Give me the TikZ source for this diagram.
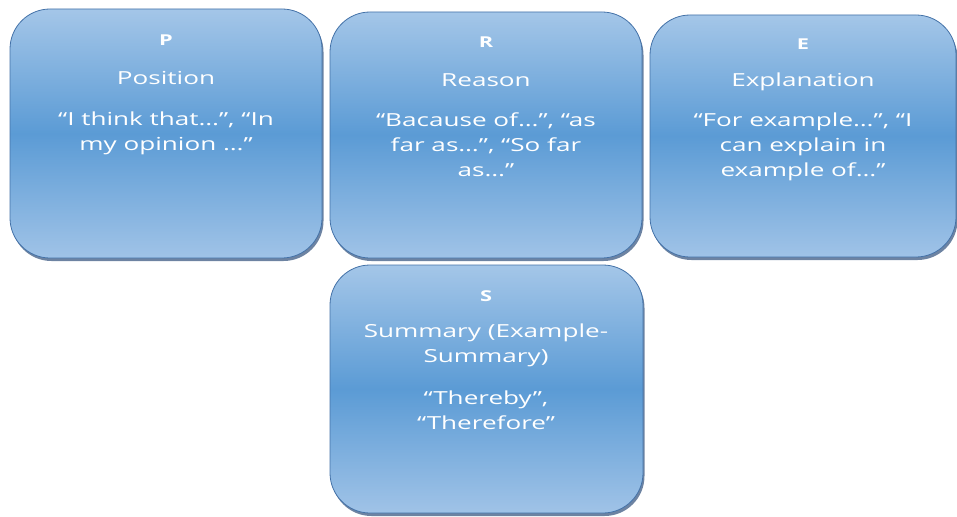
\documentclass[tikz,border=0pt]{standalone}
\usepackage{fontspec}
\setmainfont{Open Sans}
\newfontfamily\widefont[FakeStretch=1.45]{Open Sans}
\usetikzlibrary{shadows}
\definecolor{boxtop}{HTML}{A4C6E8}
\definecolor{boxmid}{HTML}{5B9BD5}
\definecolor{boxbot}{HTML}{A0C3E7}
\definecolor{boxline}{HTML}{4472A8}
\definecolor{shadowc}{HTML}{2F4F7A}
\tikzset{
  card/.style={draw=boxline, line width=0.8pt, rounded corners=40pt,
    top color=boxtop, bottom color=boxbot, middle color=boxmid,
    drop shadow={shadow xshift=1.5pt, shadow yshift=-3pt, fill=shadowc, opacity=0.7},
    inner sep=0pt},
  ttl/.style={text=white, font=\widefont\bfseries\fontsize{15}{17}\selectfont, inner sep=0pt},
  txt/.style={text=white, font=\widefont\fontsize{18}{25}\selectfont, align=center, inner sep=0pt},
}
\begin{document}
\begin{tikzpicture}[x=1pt,y=-1pt]
\useasboundingbox (0,0) rectangle (957,516);
\node[card, minimum width=312pt, minimum height=249pt] (P) at (166,133.5) {};
\node[card, minimum width=312pt, minimum height=246pt] (R) at (486,135) {};
\node[card, minimum width=306pt, minimum height=242pt] (E) at (803,136) {};
\node[card, minimum width=313pt, minimum height=248pt] (S) at (486.5,389) {};
% P
\node[ttl] (Pt) at (166,40) {P};
\node[txt] (Pn) at (166,78) {Position};
\node[txt] (Pb) at (166,133) {“I think that…”, “In\\my opinion …”};
% R
\node[ttl] (Rt) at (486,42) {R};
\node[txt] (Rn) at (486,80) {Reason};
\node[txt] (Rb) at (486,145) {“Bacause of…”, “as\\far as…”, “So far\\as…”};
% E
\node[ttl] (Et) at (803,44) {E};
\node[txt] (En) at (803,82) {Explanation};
\node[txt] (Eb) at (803,147) {“For example…”, “I\\can explain in\\example of…”};
% S
\node[ttl] (St) at (486,296) {S};
\node[txt] (Sn) at (486,345) {Summary (Example-\\Summary)};
\node[txt] (Sb) at (486,410) {“Thereby”,\\“Therefore”};
\end{tikzpicture}
\end{document}
